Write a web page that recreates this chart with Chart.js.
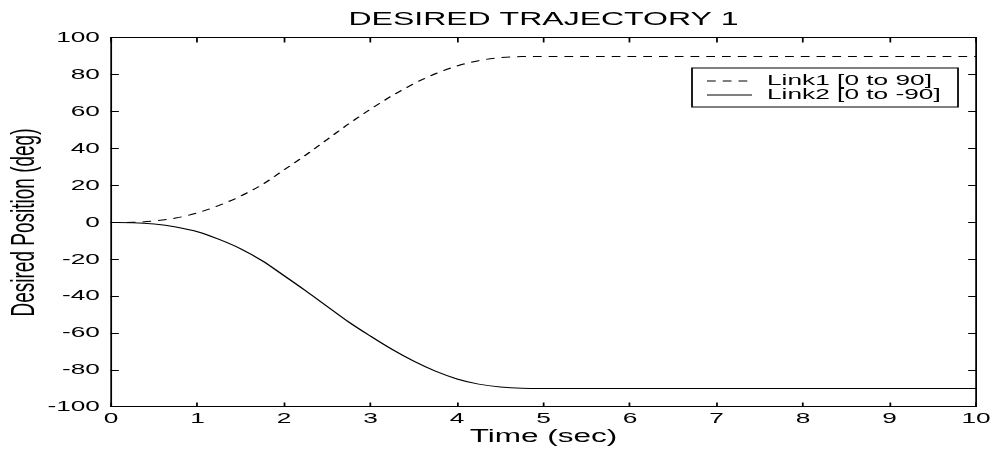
<!DOCTYPE html>
<html>
<head>
<meta charset="utf-8">
<title>Desired Trajectory 1</title>
<script src="https://cdn.jsdelivr.net/npm/chart.js@4/dist/chart.umd.min.js"></script>
<style>
  html, body { margin: 0; padding: 0; background: #fff; }
  canvas { display: block; }
</style>
</head>
<body>
<canvas id="c" width="566" height="449"></canvas>
<script>
// Time samples (seconds)
const timeSec = [0, 0.25, 0.5, 0.75, 1, 1.25, 1.5, 1.75, 2, 2.25, 2.5, 2.75, 3, 3.25, 3.5, 3.75, 4, 4.25, 4.5, 4.75, 5, 10];
// Desired joint positions (degrees)
const link1Deg = [0, 0.1, 0.8, 2.4, 5.2, 9.3, 14.3, 20.6, 28.5, 36.5, 45, 53.5, 61.4, 68.7, 75.2, 80.6, 84.8, 87.7, 89.3, 89.9, 90, 90];
const link2Deg = [0, -0.1, -0.8, -2.4, -5.0, -9.2, -14.3, -20.8, -28.8, -37, -45.5, -54, -61.6, -68.8, -75.2, -80.6, -84.8, -87.6, -89.2, -89.9, -90, -90];
const seriesLabels = ['Link1 [0 to 90]', 'Link2 [0 to -90]'];
const chartTitle = 'DESIRED TRAJECTORY 1';
const xTitle = 'Time (sec)';
const yTitle = 'Desired Position (deg)';

// The figure is laid out in a narrow logical space and stretched horizontally.
const LOGICAL_W = 566;
const OUT_W = 991;
const SX = OUT_W / LOGICAL_W;
const px = v => v / SX; // output x -> logical x

const toPoints = ys => timeSec.map((t, i) => ({ x: t, y: ys[i] }));

Chart.defaults.font.family = '"Liberation Sans", Arial, Helvetica, sans-serif';
Chart.defaults.color = '#000';

const stretch = {
  id: 'stretch',
  beforeDraw(chart) {
    chart.ctx.setTransform(SX, 0, 0, 1, 0, 0);
  }
};

const boxedLegend = {
  id: 'boxedLegend',
  afterDraw(chart) {
    const ctx = chart.ctx;
    ctx.save();
    ctx.strokeStyle = '#000';
    ctx.lineWidth = 1;
    ctx.setLineDash([]);
    const x0 = px(692), x1 = px(958);
    ctx.strokeRect(x0, 68, x1 - x0, 39);
    ctx.font = '15px "Liberation Sans", Arial, sans-serif';
    ctx.fillStyle = '#000';
    ctx.textBaseline = 'middle';
    ctx.textAlign = 'left';
    chart.data.datasets.forEach((ds, i) => {
      const y = 81 + 14 * i;
      ctx.setLineDash(ds.borderDash || []);
      ctx.strokeStyle = ds.borderColor;
      ctx.lineWidth = ds.borderWidth;
      ctx.beginPath();
      ctx.moveTo(px(707), y);
      ctx.lineTo(px(752), y);
      ctx.stroke();
      ctx.setLineDash([]);
      ctx.fillText(ds.label, px(767), y);
    });
    ctx.restore();
  }
};

const axisCommon = {
  grid: { drawOnChartArea: false, color: '#000', lineWidth: 1, tickLength: -4.5 },
  border: { display: true, color: '#000', width: 1 }
};

// Pin an axis box size and drop the label-overflow margins it asks for.
const pin = (w, h) => s => {
  if (w !== null) s.width = w;
  if (h !== null) s.height = h;
  s.paddingLeft = 0; s.paddingRight = 0; s.paddingTop = 0; s.paddingBottom = 0;
};

const canvas = document.getElementById('c');
const chart = new Chart(canvas, {
  type: 'line',
  data: {
    datasets: [
      {
        label: seriesLabels[0],
        data: toPoints(link1Deg),
        borderColor: '#000',
        borderWidth: 1,
        borderDash: [5, 4],
        pointRadius: 0,
        fill: false,
        cubicInterpolationMode: 'monotone'
      },
      {
        label: seriesLabels[1],
        data: toPoints(link2Deg),
        borderColor: '#000',
        borderWidth: 1,
        pointRadius: 0,
        fill: false,
        cubicInterpolationMode: 'monotone'
      }
    ]
  },
  options: {
    responsive: false,
    animation: false,
    devicePixelRatio: 1,
    events: [],
    layout: { padding: { left: 0, right: LOGICAL_W - px(976), top: 0, bottom: 0 } },
    plugins: {
      legend: { display: false },
      tooltip: { enabled: false },
      title: {
        display: true,
        text: chartTitle,
        fullSize: false,
        color: '#000',
        font: { size: 18.3, weight: 'normal' },
        padding: { top: 9, bottom: 7 }
      }
    },
    scales: {
      x: {
        type: 'linear',
        position: 'bottom',
        min: 0,
        max: 10,
        ...axisCommon,
        ticks: { stepSize: 1, autoSkip: false, maxRotation: 0, color: '#000', font: { size: 15 }, padding: 7.2 },
        title: { display: true, text: xTitle, color: '#000', font: { size: 18 }, padding: { top: 0, bottom: 1.2 } },
        afterFit: pin(null, 42)
      },
      y: {
        type: 'linear',
        position: 'left',
        min: -100,
        max: 100,
        ...axisCommon,
        ticks: { stepSize: 20, autoSkip: false, color: '#000', font: { size: 15 }, padding: 10.8 },
        title: { display: true, text: yTitle, color: '#000', font: { size: 19 }, padding: { top: 2.9, bottom: 0 } },
        afterFit: pin(px(111), null)
      },
      xTop: {
        type: 'linear',
        position: 'top',
        min: 0,
        max: 10,
        ...axisCommon,
        ticks: { display: false, stepSize: 1, autoSkip: false },
        afterFit: pin(null, 0)
      },
      yRight: {
        type: 'linear',
        position: 'right',
        min: -100,
        max: 100,
        ...axisCommon,
        ticks: { display: false, stepSize: 20, autoSkip: false },
        afterFit: pin(0, null)
      }
    }
  },
  plugins: [stretch, boxedLegend]
});

// Widen the backing store to the output width and redraw with the horizontal stretch.
canvas.width = OUT_W;
canvas.style.width = OUT_W + 'px';
canvas.style.height = '449px';
chart.draw();
</script>
</body>
</html>
